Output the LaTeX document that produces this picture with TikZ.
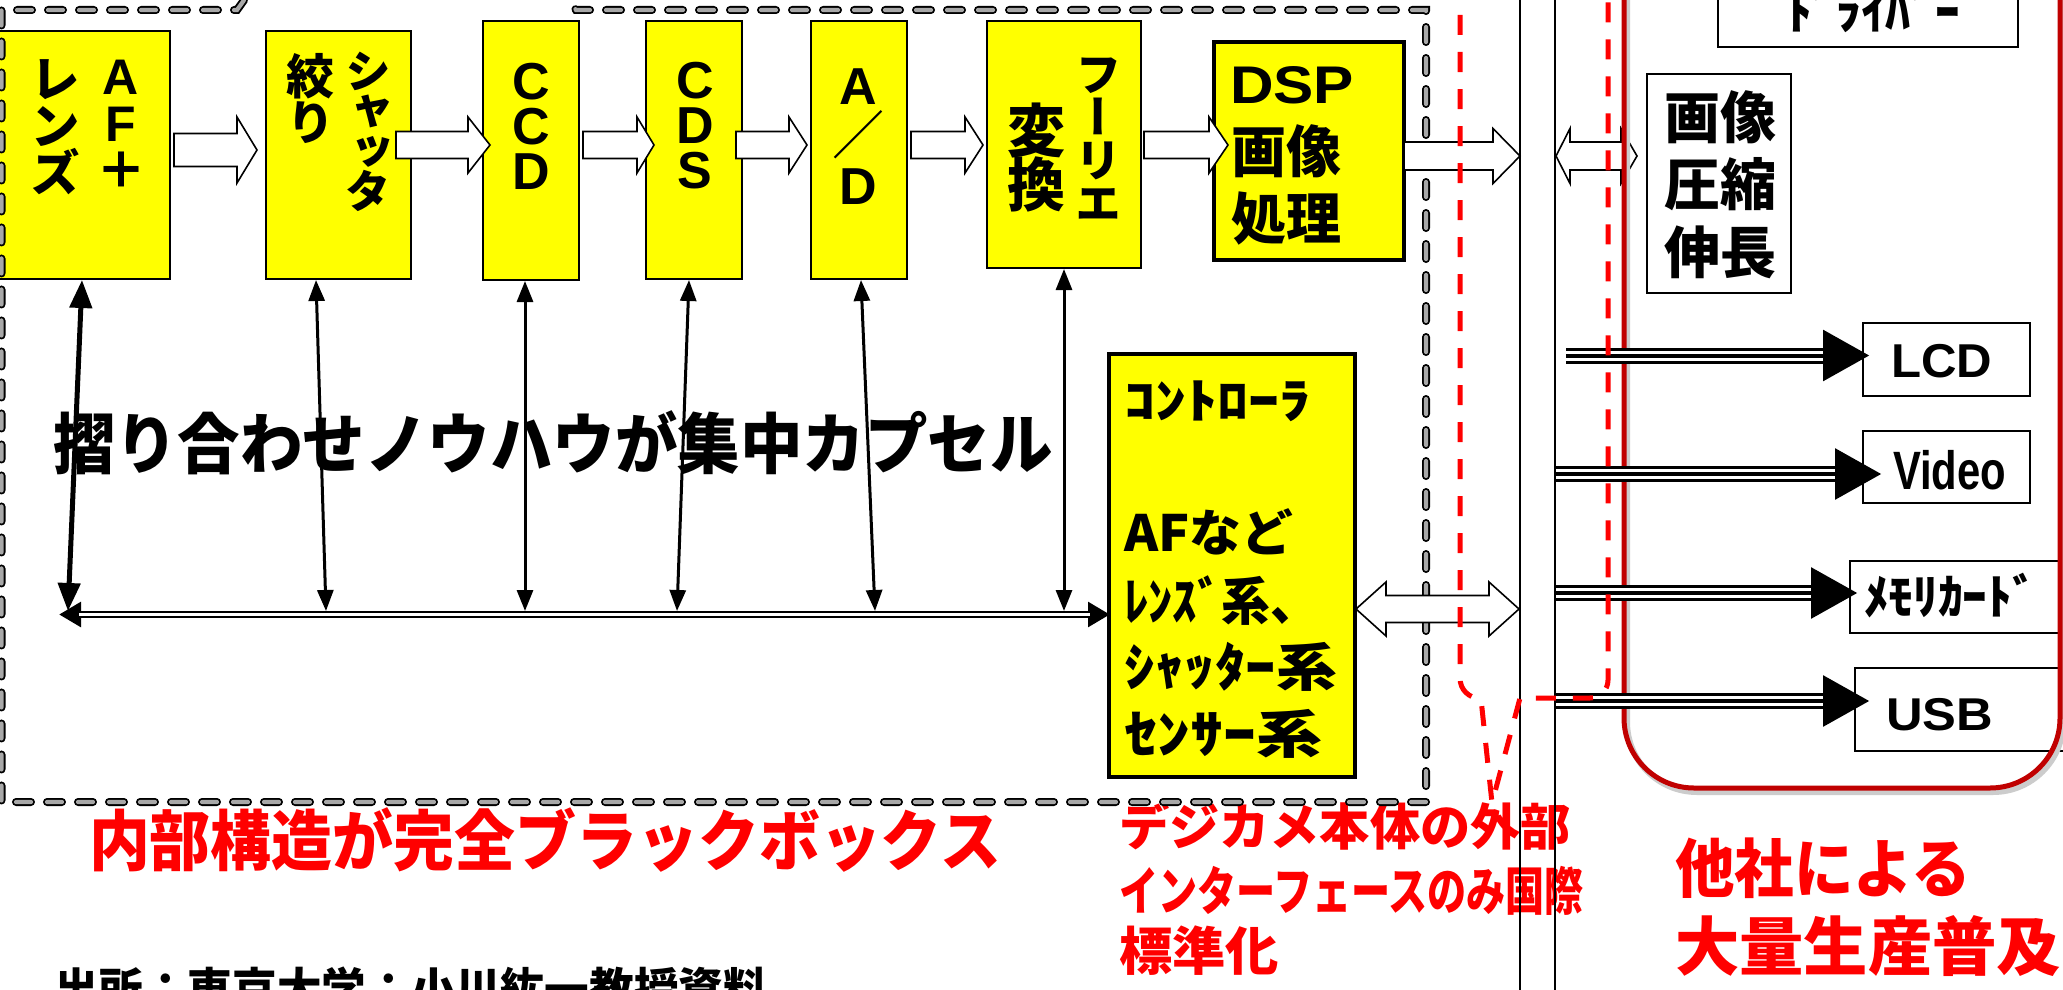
\documentclass[tikz,border=0pt]{standalone}
\usepackage{fontspec}
\usepackage{graphicx}
\setmainfont{Liberation Sans}
\newfontfamily\lib{Liberation Sans}
\newfontfamily\jp{Noto Sans CJK JP}
\newfontfamily\vjp{Noto Sans CJK JP}[RawFeature=+vert]
\usetikzlibrary{arrows.meta,fit}
\lineskiplimit=-100pt
\lineskip=0pt
\definecolor{dred}{HTML}{C00000}
\definecolor{yel}{HTML}{FFFF00}
\definecolor{dashgray}{HTML}{A8A8A8}
\definecolor{rred}{HTML}{FF0000}
\newcommand\hl[3]{\resizebox{#1pt}{\height}{\fontsize{#2}{#2}\selectfont #3}}
\newcommand\vfs[2]{\fontsize{#1}{#2}\selectfont}
\newcommand\harrow[6]{\draw[barrow] (#1,#4-#5) -- (#3,#4-#5) -- (#3,#4-#6) -- (#2,#4) -- (#3,#4+#6) -- (#3,#4+#5) -- (#1,#4+#5) -- cycle;}
\newcommand\dharrow[7]{\draw[barrow] (#1,#5) -- (#2,#5-#7) -- (#2,#5-#6) -- (#3,#5-#6) -- (#3,#5-#7) -- (#4,#5) -- (#3,#5+#7) -- (#3,#5+#6) -- (#2,#5+#6) -- (#2,#5+#7) -- cycle;}
\tikzset{
 ybox/.style={draw=black, fill=yel, line width=2pt, inner sep=0pt},
 wbox/.style={draw=black, line width=2pt, inner sep=0pt},
 lab/.style={inner sep=0pt, outer sep=0pt},
 vt/.style={inner sep=0pt, outer sep=0pt, align=center},
 barrow/.style={draw=black, fill=white, line width=1.6pt, line join=miter},
 thinarr/.style={line width=3pt, {Triangle[length=21pt,width=16pt]}-{Triangle[length=21pt,width=16pt]}},
 lensarr/.style={line width=5pt, {Triangle[length=28pt,width=22pt]}-{Triangle[length=28pt,width=22pt]}},
 cdo/.style={line width=8pt, dash pattern=on 15pt off 16pt, line cap=round, draw=black},
 cdi/.style={line width=4.2pt, dash pattern=on 15pt off 16pt, line cap=round, draw=dashgray},
 reddash/.style={draw=rred, line width=5pt, dash pattern=on 20pt off 17pt},
 tri/.style={line width=16pt, -{Triangle[length=47pt,width=48pt]}},
}
\begin{document}
\begin{tikzpicture}[x=1pt,y=-1pt]
\useasboundingbox (0,0) rectangle (2063,990);
\clip (0,0) rectangle (2063,990);
\fill[white] (0,0) rectangle (2063,990);

% yellow boxes
\node[ybox, fit={(-10,31)(170,279)}] (lens) {};
\node[ybox, fit={(266,31)(411,279)}] (shut) {};
\node[ybox, fit={(483,21)(579,280)}] (ccd) {};
\node[ybox, fit={(646,21)(742,279)}] (cds) {};
\node[ybox, fit={(811,21)(907,279)}] (ad) {};
\node[ybox, fit={(987,21)(1141,268)}] (four) {};
\node[ybox, line width=3.5pt, fit={(1214,42)(1404,260)}] (dsp) {};
\node[ybox, line width=3.5pt, fit={(1109,354)(1355,777)}] (ctrl) {};

% white boxes
\node[wbox, fit={(1718,-20)(2018,47)}] (drv) {};
\node[wbox, line width=2.5pt, fit={(1647,74)(1791,293)}] (cmp) {};
\node[wbox, fit={(1863,323)(2030,396)}] (lcd) {};
\node[wbox, fit={(1863,431)(2030,503)}] (vid) {};
\node[wbox, fit={(1850,561)(2090,633)}] (mem) {};
\node[wbox, fit={(1855,668)(2090,751)}] (usb) {};

% vertical texts
\node[vt, font=\vjp\bfseries\vfs{50}{47}] (vAF) at (121,124.5) {{\lib A}\\{\lib F}\\＋};
\node[vt, font=\vjp\bfseries\vfs{50}{47}] (vLens) at (55,127) {レ\\ン\\ズ};
\node[vt, font=\vjp\bfseries\vfs{46}{40}] (vSh) at (368,131.5) {シ\\ャ\\ッ\\タ};
\node[vt, font=\vjp\bfseries\vfs{48}{46}] (vSi) at (310,99) {絞\\り};
\node[vt, font=\lib\bfseries\vfs{52}{45}] (vCCD) at (531,126) {C\\C\\D};
\node[vt, font=\lib\bfseries\vfs{52}{45}] (vCDS) at (695,126) {C\\D\\S};
\node[vt, font=\lib\bfseries\vfs{52}{50}] (vAD) at (858,137) {A\\{\jp\mdseries ／}\\D};
\node[vt, font=\vjp\bfseries\vfs{46}{43}] (vFu) at (1098,139) {フ\\ー\\リ\\エ};
\node[vt, font=\vjp\bfseries\vfs{58}{54}] (vHe) at (1036,157.5) {変\\換};

% horizontal texts
\node[lab, anchor=base west] (tdsp) at (1230,103) {\hl{124}{53}{\bfseries DSP}};
\node[lab, anchor=west] (tga) at (1231,151) {\hl{110}{56}{\jp\bfseries 画像}};
\node[lab, anchor=west] (tsh) at (1231,219) {\hl{110}{56}{\jp\bfseries 処理}};
\node[lab, anchor=west] (tc1) at (1664,117) {\hl{112}{56}{\jp\bfseries 画像}};
\node[lab, anchor=west] (tc2) at (1664,184) {\hl{112}{56}{\jp\bfseries 圧縮}};
\node[lab, anchor=west] (tc3) at (1664,252) {\hl{112}{56}{\jp\bfseries 伸長}};
\node[lab, anchor=base west] (tdrv) at (1787,30) {\hl{173}{48}{\jp\bfseries ﾄﾞﾗｲﾊﾞｰ}};
\node[lab, anchor=base west] (tlcd) at (1891,377) {\hl{101}{47.5}{\bfseries LCD}};
\node[lab, anchor=base west] (tvid) at (1893,489) {\hl{113}{54}{\bfseries Video}};
\node[lab, anchor=west] (tmem) at (1864,596) {\hl{173}{48}{\jp\bfseries ﾒﾓﾘｶｰﾄﾞ}};
\node[lab, anchor=base west] (tusb) at (1886,730) {\hl{107}{46}{\bfseries USB}};

\node[lab, anchor=west] (k1) at (1124,401) {\hl{187}{48}{\jp\bfseries ｺﾝﾄﾛｰﾗ}};
\node[lab, anchor=west] (k2) at (1124,532) {\hl{169}{50}{\jp\bfseries AFなど}};
\node[lab, anchor=west] (k3) at (1124,601) {\hl{195}{52}{\jp\bfseries ﾚﾝｽﾞ系、}};
\node[lab, anchor=west] (k4) at (1124,667) {\hl{213}{52}{\jp\bfseries ｼｬｯﾀｰ系}};
\node[lab, anchor=west] (k5) at (1124,734) {\hl{198}{52}{\jp\bfseries ｾﾝｻｰ系}};

\node[lab, anchor=west] (tsuri) at (53,443) {\hl{1000}{66}{\jp\bfseries 摺り合わせノウハウが集中カプセル}};
\node[lab, anchor=west, text=rred] (tbb) at (89,840) {\hl{912}{66}{\jp\bfseries 内部構造が完全ブラックボックス}};
\node[lab, anchor=west, text=rred] (tde1) at (1119,826) {\hl{452}{50}{\jp\bfseries デジカメ本体の外部}};
\node[lab, anchor=west, text=rred] (tde2) at (1119,891) {\hl{465}{52}{\jp\bfseries インターフェースのみ国際}};
\node[lab, anchor=west, text=rred] (tde3) at (1119,951) {\hl{160}{52}{\jp\bfseries 標準化}};
\node[lab, anchor=west, text=rred] (tta1) at (1675,868) {\hl{296}{64}{\jp\bfseries 他社による}};
\node[lab, anchor=west, text=rred] (tta2) at (1675,946) {\hl{386}{64}{\jp\bfseries 大量生産普及}};
\node[lab, anchor=base west] (tsrc) at (54,1006) {\hl{714}{46}{\jp\bfseries 出所：東京大学：小川紘一教授資料}};

% black dashed callout
\draw[cdo] (262,-25) -- (237,10) -- (1.5,10) -- (1.5,802) -- (1426,802) -- (1426,10) -- (576,10) -- (552,-25);
\draw[cdi] (262,-25) -- (237,10) -- (1.5,10) -- (1.5,802) -- (1426,802) -- (1426,10) -- (576,10) -- (552,-25);

% hollow block arrows
\harrow{174}{257}{237}{150}{16.5}{33}
\harrow{396}{490}{468}{145}{13.5}{28}
\harrow{583}{654}{637}{145}{13.5}{28}
\harrow{736}{807}{789}{145}{13.5}{28}
\harrow{911}{983}{965}{145}{13.5}{28}
\harrow{1144}{1228}{1209}{145}{13.5}{28}
\harrow{1404}{1520}{1493}{156}{14}{27.5}
\dharrow{1556}{1570}{1621}{1637}{156}{14}{27.5}
\dharrow{1356}{1386}{1489}{1519}{609}{13.5}{27}

% bus
\coordinate (b1) at (68,611);
\coordinate (b2) at (326,611);
\coordinate (b3) at (525,611);
\coordinate (b4) at (677,611);
\coordinate (b5) at (875,611);
\coordinate (b6) at (1064,611);
\coordinate (busL) at (59,614.5);
\coordinate (busR) at (1110,614.5);
\draw[lensarr] ([xshift=2pt]lens.south) -- (b1);
\draw[thinarr] ([xshift=-22.5pt]shut.south) -- (b2);
\draw[thinarr] ([xshift=-6pt]ccd.south) -- (b3);
\draw[thinarr] ([xshift=-5pt]cds.south) -- (b4);
\draw[thinarr] ([xshift=2pt]ad.south) -- (b5);
\draw[thinarr] (four.south) -- (b6);
\draw[line width=7.5pt, {Triangle[length=22pt,width=24pt]}-{Triangle[length=22pt,width=24pt]}] (busL) -- (busR);
\draw[white, line width=2.2pt] ([xshift=20pt]busL) -- ([xshift=-20pt]busR);

% vertical lines
\coordinate (v1t) at (1520,-5); \coordinate (v1b) at (1520,995);
\coordinate (v2t) at (1555,-5); \coordinate (v2b) at (1555,995);
\draw[line width=2pt] (v1t) -- (v1b);
\draw[line width=2pt] (v2t) -- (v2b);

% red rounded frame
\draw[line width=6pt, black!20, rounded corners=70pt] (1627,-97) rectangle (2063,792);
\draw[line width=5pt, dred, rounded corners=70pt] (1624,-100) rectangle (2060,788);

% triple arrows
\coordinate (l1s) at (1566,355.5); \coordinate (l1e) at (1870,355.5);
\coordinate (l2s) at (1556,474); \coordinate (l2e) at (1882,474);
\coordinate (l3s) at (1556,593); \coordinate (l3e) at (1858,593);
\coordinate (l4s) at (1556,701); \coordinate (l4e) at (1870,701);
\foreach \s/\e in {l1s/l1e,l2s/l2e,l3s/l3e,l4s/l4e}{
 \draw[tri] (\s) -- (\e);
 \draw[white, line width=10pt] (\s) -- ([xshift=-47pt]\e);
 \draw[black, line width=4pt] (\s) -- ([xshift=-47pt]\e);
}

% red dashed callout
\draw[reddash] (1460,-22) -- (1460,678) .. controls (1460,690) and (1469,698) .. (1481,699) -- (1492,803) -- (1520,698) -- (1590,698) .. controls (1600,698) and (1608,690) .. (1608,680) -- (1608,-30);
\end{tikzpicture}
\end{document}
